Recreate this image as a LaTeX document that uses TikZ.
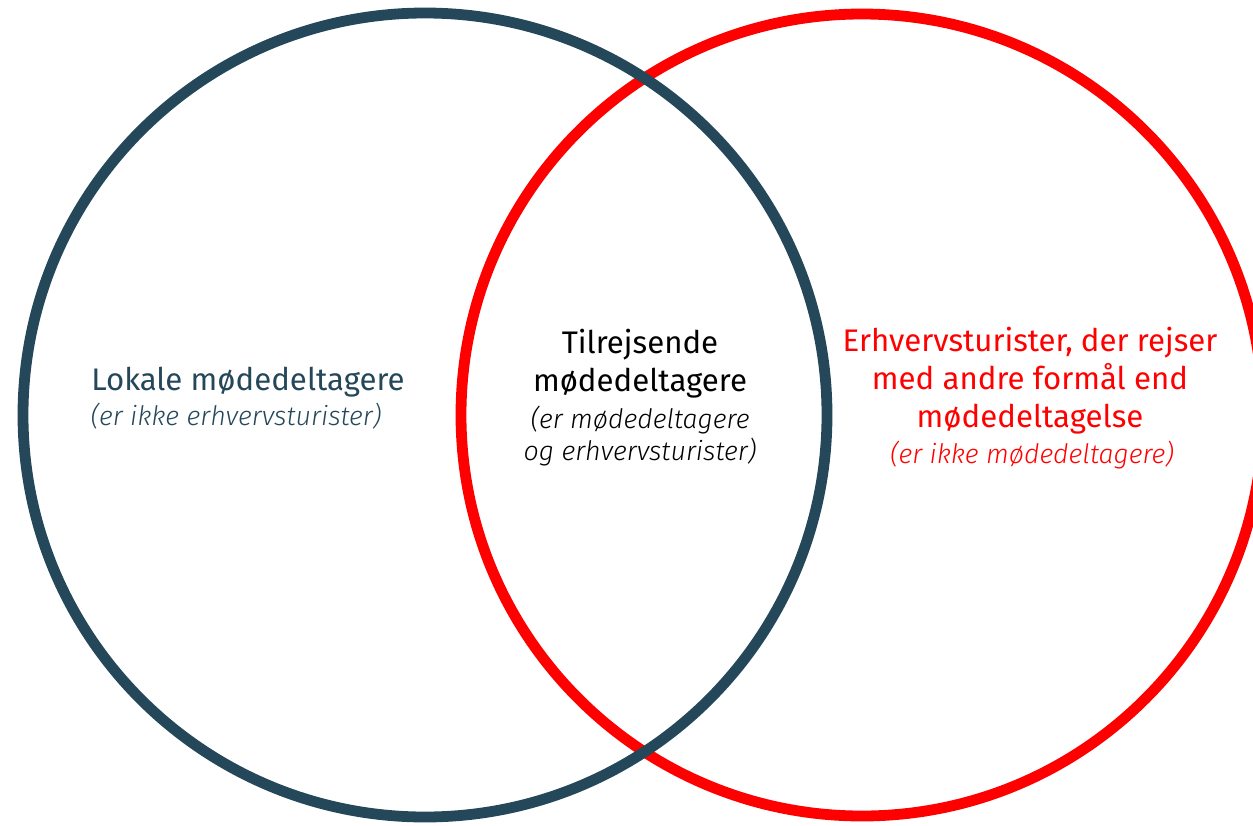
\documentclass[tikz,border=0pt]{standalone}
\usepackage{fontspec}
\setmainfont{Fira Sans}
\newfontfamily\lightfont{Fira Sans Light}
\usepackage{xcolor}
\usepackage{tikz}
\definecolor{petrol}{HTML}{24475A}
\definecolor{signalred}{HTML}{FF0000}

\begin{document}
\begin{tikzpicture}[x=0.5pt, y=-0.5pt,
    ring/.style={line width=5.4pt},
    maintext/.style={align=center, font=\fontsize{15.6}{19}\selectfont},
    subtext/.style={align=center, font=\fontsize{13.4}{16}\selectfont\lightfont\itshape}]

    % Canvas
    \useasboundingbox (0,0) rectangle (1253,825);
    \clip (0,0) rectangle (1253,825);

    % The two sets (the dark one lies on top)
    \draw[ring, signalred] (862,415) circle (401);
    \draw[ring, petrol] (425,415) circle (402);

    % Left part
    \node[maintext, petrol] (lokale) at (248,382) {Lokale mødedeltagere};
    \node[subtext, petrol] (lokalesub) at (236,416) {(er ikke erhvervsturister)};

    % Overlap
    \node[maintext, black] (tilrejsende) at (640,364) {Tilrejsende\\mødedeltagere};
    \node[subtext, black] (tilrejsendesub) at (640,436) {(er mødedeltagere\\og erhvervsturister)};

    % Right part
    \node[maintext, signalred] (erhverv) at (1030,381)
        {Erhvervsturister, der rejser\\med andre formål end\\mødedeltagelse};
    \node[subtext, signalred] (erhvervsub) at (1032,455) {(er ikke mødedeltagere)};

\end{tikzpicture}
\end{document}
